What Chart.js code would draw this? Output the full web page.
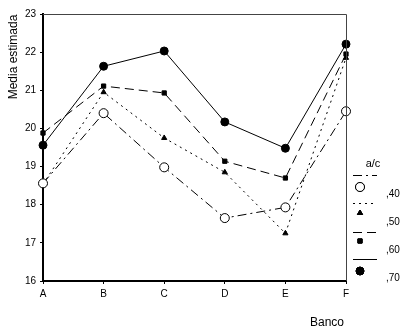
<!DOCTYPE html>
<html>
<head>
<meta charset="utf-8">
<script src="https://cdn.jsdelivr.net/npm/chart.js@4.4.0/dist/chart.umd.min.js"></script>
<style>
html,body{margin:0;padding:0;background:#fff;}
#wrap{width:406px;height:333px;position:relative;}
</style>
</head>
<body>
<div id="wrap"><canvas id="c" width="406" height="333"></canvas></div>
<script>
const categories = ['A','B','C','D','E','F'];
const seriesLabels = [',40', ',50', ',60', ',70'];
const s40 = [18.56, 20.40, 18.98, 17.65, 17.93, 20.45];
const s50 = [18.54, 20.95, 19.75, 18.85, 17.25, 21.85];
const s60 = [19.88, 21.11, 20.93, 19.14, 18.70, 21.95];
const s70 = [19.56, 21.63, 22.03, 20.17, 19.48, 22.21];
const yTicks = [16,17,18,19,20,21,22,23];
const legendTitle = 'a/c';
const yTitle = 'Media estimada';
const xTitle = 'Banco';

const FONT = '"Liberation Sans", Arial, sans-serif';
const styles = [
  {dash:[9,4,2,4], point:'circle', r:4.5, fill:'#fff'},
  {dash:[2,4], point:'triangle', r:3, fill:'#000'},
  {dash:[9,5], point:'rect', r:3, fill:'#000'},
  {dash:[], point:'circle', r:4, fill:'#000'}
];
const values = [s40, s50, s60, s70];

const decor = {
  id:'decor',
  afterDraw(chart){
    const ctx = chart.ctx, a = chart.chartArea;
    ctx.save();
    ctx.strokeStyle = '#444'; ctx.lineWidth = 1; ctx.setLineDash([]);
    ctx.beginPath();
    ctx.moveTo(a.left, a.top+0.5); ctx.lineTo(a.right+0.5, a.top+0.5); ctx.lineTo(a.right+0.5, a.bottom);
    ctx.stroke();
    ctx.fillStyle = '#000';
    ctx.font = '12px ' + FONT;
    ctx.textAlign = 'center'; ctx.textBaseline = 'middle';
    ctx.save(); ctx.translate(14, 57); ctx.rotate(-Math.PI/2); ctx.fillText(yTitle, 0, 0); ctx.restore();
    ctx.fillText(xTitle, 327, 323);
    ctx.font = '11px ' + FONT;
    ctx.fillText(legendTitle, 373, 164);
    const lx0 = 353, lx1 = 377, mx = 360;
    const lineY = [175, 203, 232, 259];
    const mY = [187, 213, 241, 271];
    const tY = [194, 222, 250, 278];
    for (let i=0;i<4;i++){
      const st = styles[i];
      ctx.strokeStyle = '#000'; ctx.lineWidth = 1; ctx.setLineDash(st.dash);
      ctx.beginPath(); ctx.moveTo(lx0, lineY[i]+0.5); ctx.lineTo(lx1, lineY[i]+0.5); ctx.stroke();
      ctx.setLineDash([]);
      ctx.fillStyle = st.fill;
      Chart.helpers.drawPoint(ctx, {pointStyle: st.point, radius: st.r, borderWidth: 1}, mx, mY[i]);
      ctx.fill(); ctx.stroke();
      ctx.fillStyle = '#000';
      ctx.font = '10px ' + FONT;
      ctx.textAlign = 'left';
      ctx.fillText(seriesLabels[i], 386, tY[i]);
    }
    ctx.restore();
  }
};

new Chart(document.getElementById('c'), {
  type:'line',
  data:{
    labels: categories,
    datasets: values.map((v,i)=>({
      label: seriesLabels[i],
      data: v,
      borderColor:'#000',
      borderWidth:1,
      borderDash: styles[i].dash,
      pointStyle: styles[i].point,
      pointRadius: styles[i].r,
      pointBackgroundColor: styles[i].fill,
      pointBorderColor:'#000',
      pointBorderWidth:1,
      tension:0,
      fill:false
    }))
  },
  options:{
    responsive:false,
    animation:false,
    events:[],
    layout:{padding:{left:0, top:14, right:60, bottom:0}},
    plugins:{legend:{display:false}, tooltip:{enabled:false}},
    scales:{
      x:{
        offset:false,
        grid:{display:true, drawOnChartArea:false, drawTicks:true, tickLength:3, color:'#000'},
        border:{display:true, width:2, color:'#000'},
        ticks:{color:'#000', font:{family:FONT, size:10}, padding:4, maxRotation:0},
        afterFit(s){ s.height = 52; }
      },
      y:{
        min:16, max:23,
        afterBuildTicks(s){ s.ticks = yTicks.map(v=>({value:v})); },
        grid:{display:true, drawOnChartArea:false, drawTicks:true, tickLength:3, color:'#000'},
        border:{display:true, width:2, color:'#000'},
        ticks:{color:'#000', font:{family:FONT, size:10}, padding:4},
        afterFit(s){ s.width = 43; }
      }
    }
  },
  plugins:[decor]
});
</script>
</body>
</html>
